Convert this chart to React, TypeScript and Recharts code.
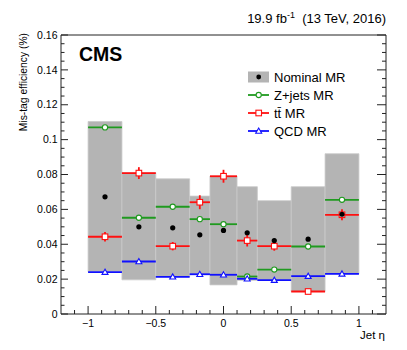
import { ComposedChart, Scatter, ErrorBar, XAxis, YAxis, ReferenceArea } from 'recharts'

// Jet eta bins
const BIN_LO = [-1, -0.75, -0.5, -0.25, -0.1, 0.1, 0.25, 0.5, 0.75]
const BIN_HI = [-0.75, -0.5, -0.25, -0.1, 0.1, 0.25, 0.5, 0.75, 1]

// Nominal MR and its grey band
const NOMINAL = [0.0672, 0.05, 0.0494, 0.0454, 0.0479, 0.0466, 0.0421, 0.0429, 0.0572]
const NOMINAL_ERR = [0.0008, 0.0008, 0.0008, 0.0008, 0.0008, 0.0008, 0.0008, 0.0008, 0.0008]
const BAND_LO = [0.0243, 0.0196, 0.0213, 0.0227, 0.0167, 0.0193, 0.0195, 0.0129, 0.023]
const BAND_HI = [0.1104, 0.081, 0.0775, 0.0676, 0.079, 0.073, 0.065, 0.073, 0.0919]

// Alternative measurement regions
const ZJETS = [0.107, 0.0552, 0.0615, 0.0544, 0.0515, 0.0215, 0.0255, 0.0387, 0.0655]
const ZJETS_ERR = [0.0012, 0.0008, 0.0008, 0.0008, 0.0008, 0.0006, 0.0006, 0.0008, 0.0008]
const TTBAR = [0.0443, 0.0808, 0.0389, 0.0641, 0.079, 0.0421, 0.0389, 0.0129, 0.0569]
const TTBAR_ERR = [0.0027, 0.0034, 0.0024, 0.004, 0.0037, 0.0034, 0.0026, 0.0008, 0.0032]
const QCD = [0.024, 0.0301, 0.0213, 0.0228, 0.0225, 0.0202, 0.0194, 0.0217, 0.023]
const QCD_ERR = [0.0006, 0.0006, 0.0006, 0.0006, 0.0006, 0.0006, 0.0006, 0.0006, 0.0006]

// Axis ticks
const X_MAJOR = [-1, -0.5, 0, 0.5, 1]
const X_LABELS = ['\u22121', '\u22120.5', '0', '0.5', '1']
const Y_MAJOR = [0, 0.02, 0.04, 0.06, 0.08, 0.1, 0.12, 0.14, 0.16]
const Y_LABELS = ['0', '0.02', '0.04', '0.06', '0.08', '0.1', '0.12', '0.14', '0.16']
const X_TICKS = Array.from({ length: 23 }, (_, i) => (i - 11) / 10)
const Y_TICKS = Array.from({ length: 33 }, (_, i) => (i * 5) / 1000)

const FONT = '"Liberation Sans", Arial, Helvetica, sans-serif'
const AXIS = '#222'
const GREEN = '#1f9a1f'
const RED = '#ff1010'
const BLUE = '#1010ff'

const toPoints = (vals: number[], errs: number[]) =>
  vals.map((v, i) => ({
    x: (BIN_LO[i] + BIN_HI[i]) / 2,
    y: v,
    xerr: (BIN_HI[i] - BIN_LO[i]) / 2,
    yerr: errs[i],
  }))

const majorIndex = (v: number, majors: number[]) => majors.findIndex((m) => Math.abs(m - v) < 1e-9)

function BottomTick({ x, y, payload }: any) {
  const k = majorIndex(payload.value, X_MAJOR)
  return (
    <g>
      <line x1={x} x2={x} y1={y} y2={y - (k >= 0 ? 8 : 4)} stroke={AXIS} />
      {k >= 0 && (
        <text x={x} y={y + 13} textAnchor="middle" fontSize={10.5} fontFamily={FONT} fill="#000">
          {X_LABELS[k]}
        </text>
      )}
    </g>
  )
}

function TopTick({ x, y, payload }: any) {
  const k = majorIndex(payload.value, X_MAJOR)
  return <line x1={x} x2={x} y1={y} y2={y + (k >= 0 ? 9 : 4)} stroke={AXIS} />
}

function LeftTick({ x, y, payload }: any) {
  const k = majorIndex(payload.value, Y_MAJOR)
  return (
    <g>
      <line x1={x} x2={x + (k >= 0 ? 7 : 3.5)} y1={y} y2={y} stroke={AXIS} />
      {k >= 0 && (
        <text x={x - 3.5} y={y + 3.7} textAnchor="end" fontSize={10.5} fontFamily={FONT} fill="#000">
          {Y_LABELS[k]}
        </text>
      )}
    </g>
  )
}

function RightTick({ x, y, payload }: any) {
  const k = majorIndex(payload.value, Y_MAJOR)
  return <line x1={x} x2={x - (k >= 0 ? 9 : 4)} y1={y} y2={y} stroke={AXIS} />
}

const OpenCircle = ({ cx, cy }: any) => (
  <circle cx={cx} cy={cy} r={2.6} fill="#fff" stroke={GREEN} strokeWidth={1.1} />
)
const OpenSquare = ({ cx, cy }: any) => (
  <rect x={cx - 2.8} y={cy - 2.8} width={5.6} height={5.6} fill="#fff" stroke={RED} strokeWidth={1.1} />
)
const OpenTriangle = ({ cx, cy }: any) => (
  <polygon
    points={`${cx},${cy - 3} ${cx - 3},${cy + 2.2} ${cx + 3},${cy + 2.2}`}
    fill="#fff"
    stroke={BLUE}
    strokeWidth={1.1}
  />
)
const Dot = ({ cx, cy }: any) => <circle cx={cx} cy={cy} r={2.6} fill="#000" />

const LEGEND = [
  { label: 'Nominal MR', color: '#000', kind: 'box' },
  { label: 'Z+jets MR', color: GREEN, kind: 'circle' },
  { label: 'tt\u0304 MR', color: RED, kind: 'square' },
  { label: 'QCD MR', color: BLUE, kind: 'triangle' },
]

function Overlay() {
  return (
    <svg
      width={407}
      height={350}
      style={{ position: 'absolute', left: 0, top: 0, pointerEvents: 'none' }}
      fontFamily={FONT}
    >
      <text x={386} y={22.5} textAnchor="end" fontSize={13} fill="#000">
        19.9 fb<tspan dy={-5} fontSize={9}>-1</tspan>
        <tspan dy={5}>{'\u00a0 (13 TeV, 2016)'}</tspan>
      </text>
      <text x={79} y={61} fontSize={19.5} fontWeight="bold" fill="#000">
        CMS
      </text>
      <text transform="translate(26.5,33) rotate(-90)" textAnchor="end" fontSize={10.3} fill="#000">
        Mis-tag efficiency (%)
      </text>
      <text x={385} y={339} textAnchor="end" fontSize={11.5} fill="#000">
        Jet η
      </text>
      {LEGEND.map((e, i) => {
        const cy = 77 + i * 18
        const cx = 258.7
        return (
          <g key={e.label}>
            {e.kind === 'box' ? (
              <>
                <rect x={248} y={cy - 5.5} width={21} height={11} fill="#b4b4b4" />
                <circle cx={cx} cy={cy} r={2.4} fill="#000" />
              </>
            ) : (
              <line x1={248} x2={269} y1={cy} y2={cy} stroke={e.color} strokeWidth={1.8} />
            )}
            {e.kind === 'circle' && <OpenCircle cx={cx} cy={cy} />}
            {e.kind === 'square' && <OpenSquare cx={cx} cy={cy} />}
            {e.kind === 'triangle' && <OpenTriangle cx={cx} cy={cy} />}
            <text x={274} y={cy + 4.5} fontSize={13} fill="#000">
              {e.label}
            </text>
          </g>
        )
      })}
    </svg>
  )
}

export default function App() {
  return (
    <div style={{ position: 'relative', width: 407, height: 350, background: '#fff' }}>
      <style>{'body{margin:0}'}</style>
      <ComposedChart width={407} height={350} margin={{ top: 0, right: 0, bottom: 0, left: 0 }}>
        <XAxis
          xAxisId="b"
          dataKey="x"
          type="number"
          domain={[-1.2, 1.2]}
          allowDataOverflow
          ticks={X_TICKS}
          interval={0}
          tick={<BottomTick />}
          tickLine={false}
          tickSize={0}
          tickMargin={0}
          height={36}
          axisLine={{ stroke: AXIS }}
        />
        <XAxis
          xAxisId="t"
          orientation="top"
          type="number"
          domain={[-1.2, 1.2]}
          allowDataOverflow
          ticks={X_TICKS}
          interval={0}
          tick={<TopTick />}
          tickLine={false}
          tickSize={0}
          tickMargin={0}
          height={35}
          axisLine={{ stroke: AXIS }}
        />
        <YAxis
          yAxisId="l"
          dataKey="y"
          type="number"
          domain={[0, 0.16]}
          allowDataOverflow
          ticks={Y_TICKS}
          interval={0}
          tick={<LeftTick />}
          tickLine={false}
          tickSize={0}
          tickMargin={0}
          width={61}
          axisLine={{ stroke: AXIS }}
        />
        <YAxis
          yAxisId="r"
          orientation="right"
          type="number"
          domain={[0, 0.16]}
          allowDataOverflow
          ticks={Y_TICKS}
          interval={0}
          tick={<RightTick />}
          tickLine={false}
          tickSize={0}
          tickMargin={0}
          width={21}
          axisLine={{ stroke: AXIS }}
        />
        {BIN_LO.map((lo, i) => (
          <ReferenceArea
            key={i}
            xAxisId="b"
            yAxisId="l"
            x1={lo}
            x2={BIN_HI[i]}
            y1={BAND_LO[i]}
            y2={BAND_HI[i]}
            fill="#b4b4b4"
            fillOpacity={1}
            stroke="#c9c9c9"
            strokeWidth={0.8}
          />
        ))}
        <Scatter xAxisId="b" yAxisId="l" data={toPoints(ZJETS, ZJETS_ERR)} shape={<OpenCircle />} isAnimationActive={false}>
          <ErrorBar dataKey="xerr" direction="x" width={0} stroke={GREEN} strokeWidth={1.8} />
          <ErrorBar dataKey="yerr" direction="y" width={0} stroke={GREEN} strokeWidth={1.8} />
        </Scatter>
        <Scatter xAxisId="b" yAxisId="l" data={toPoints(TTBAR, TTBAR_ERR)} shape={<OpenSquare />} isAnimationActive={false}>
          <ErrorBar dataKey="xerr" direction="x" width={0} stroke={RED} strokeWidth={1.8} />
          <ErrorBar dataKey="yerr" direction="y" width={0} stroke={RED} strokeWidth={1.8} />
        </Scatter>
        <Scatter xAxisId="b" yAxisId="l" data={toPoints(QCD, QCD_ERR)} shape={<OpenTriangle />} isAnimationActive={false}>
          <ErrorBar dataKey="xerr" direction="x" width={0} stroke={BLUE} strokeWidth={1.8} />
          <ErrorBar dataKey="yerr" direction="y" width={0} stroke={BLUE} strokeWidth={1.8} />
        </Scatter>
        <Scatter xAxisId="b" yAxisId="l" data={toPoints(NOMINAL, NOMINAL_ERR)} shape={<Dot />} isAnimationActive={false}>
          <ErrorBar dataKey="yerr" direction="y" width={0} stroke="#000" strokeWidth={1.2} />
        </Scatter>
      </ComposedChart>
      <Overlay />
    </div>
  )
}
